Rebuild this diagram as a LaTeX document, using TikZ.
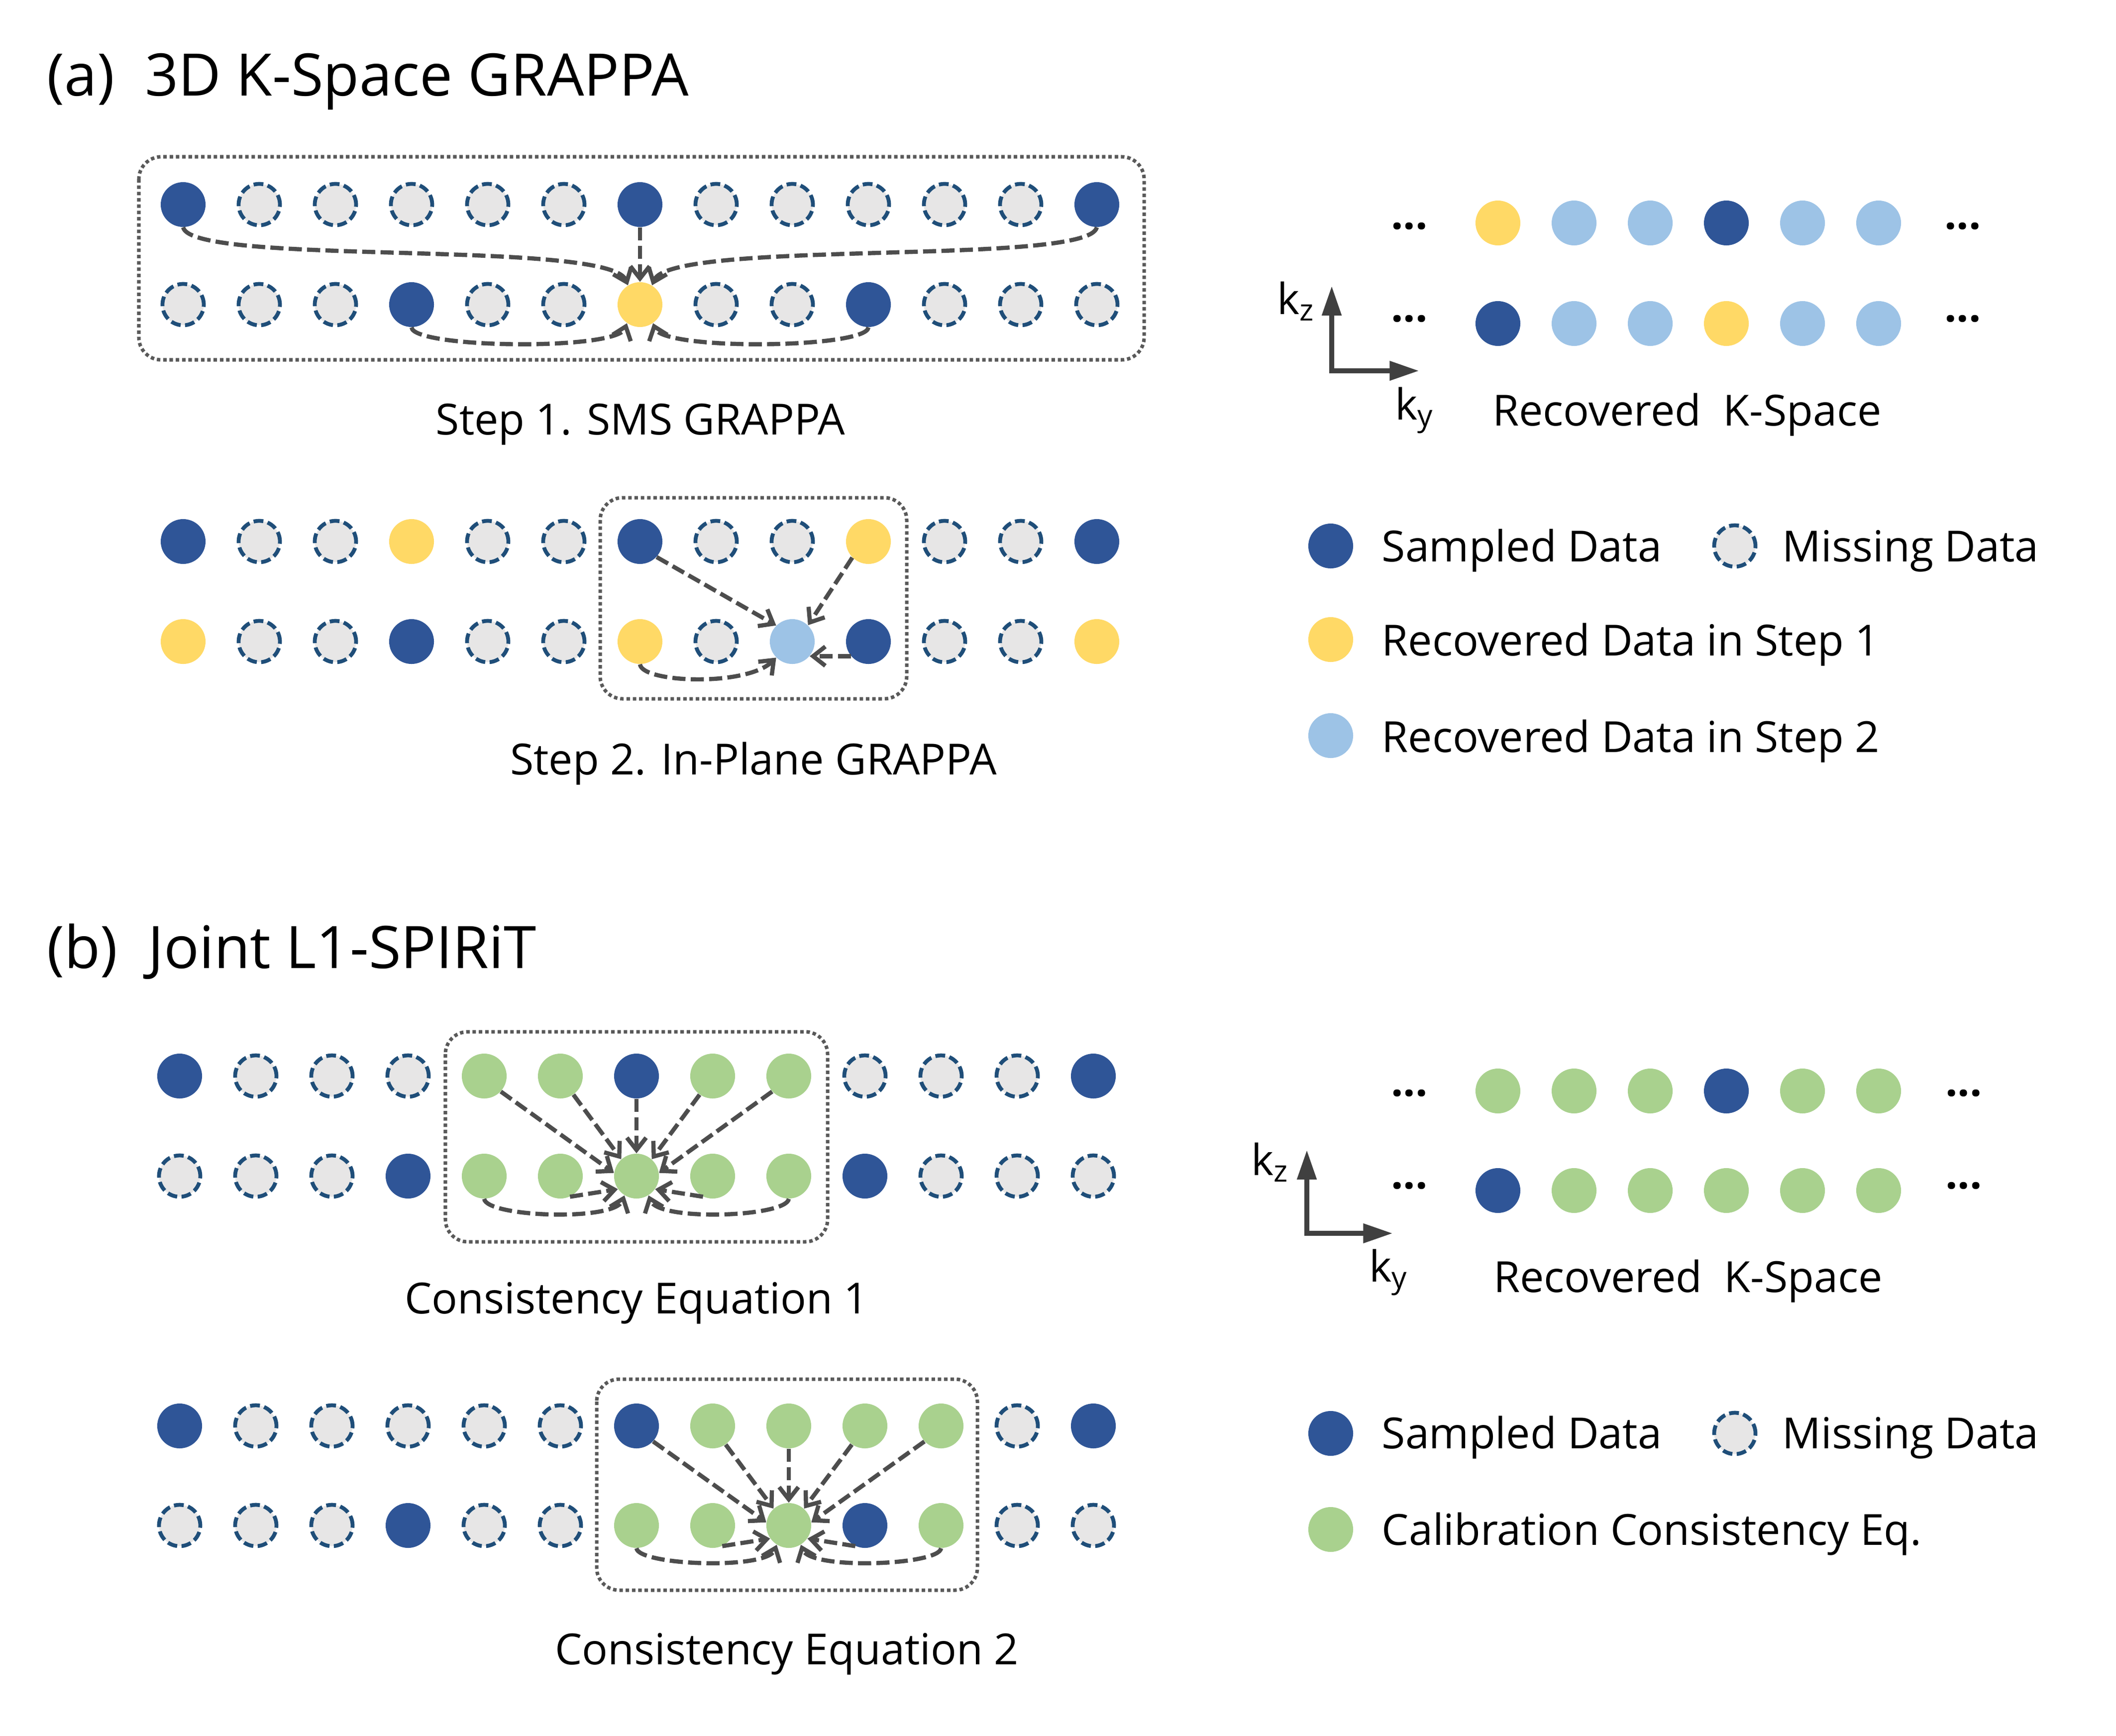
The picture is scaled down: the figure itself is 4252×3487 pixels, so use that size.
\documentclass[tikz,border=0pt]{standalone}
\usepackage{fontspec}
\setmainfont{Open Sans}
\usetikzlibrary{arrows.meta}
\definecolor{cB}{HTML}{2F5597}
\definecolor{cMf}{HTML}{E7E6E6}
\definecolor{cMd}{HTML}{1F4E79}
\definecolor{cY}{HTML}{FFD966}
\definecolor{cL}{HTML}{9DC3E6}
\definecolor{cG}{HTML}{A9D18E}
\definecolor{arrc}{HTML}{4D4D4D}
\definecolor{boxc}{HTML}{595959}
\definecolor{axc}{HTML}{404040}
\newcommand{\kRow}[4]{\foreach \t [count=\i from 0] in {#4} {\node[\t] (#1\i) at ({#2+153*\i},#3) {};}}
\begin{document}
\begin{tikzpicture}[x=0.01cm,y=-0.01cm,
 dot/.style={circle,inner sep=0pt,minimum size=0.9cm},
 sB/.style={dot,fill=cB},
 sM/.style={dot,fill=cMf,draw=cMd,line width=2.2pt,dash pattern=on 5.6pt off 2.5pt,minimum size=0.83cm},
 sY/.style={dot,fill=cY},
 sL/.style={dot,fill=cL},
 sG/.style={dot,fill=cG},
 arr/.style={draw=arrc,line width=2.4pt,dash pattern=on 7.5pt off 3pt,-{Straight Barb[length=7pt,width=11pt]}},
 grp/.style={draw=boxc,line width=2pt,dash pattern=on 2pt off 1.6pt,rounded corners=0.45cm},
 axis/.style={draw=axc,line width=3.1pt,line join=miter,{Triangle[length=17pt,width=10.5pt]}-{Triangle[length=17pt,width=10.5pt]}},
 txt/.style={inner sep=0pt,font=\fontsize{24.5}{29}\selectfont},
 ttl/.style={inner sep=0pt,font=\fontsize{33.5}{40}\selectfont}]
\fill[white] (0,0) rectangle (4252,3487);
\useasboundingbox (0,0) rectangle (4252,3487);

% ---------- titles ----------
\node[ttl,anchor=base west] (ttlA) at (94,192) {(a)~~3D K-Space GRAPPA};
\node[ttl,anchor=base west] (ttlB) at (94,1945) {(b)~~Joint L1-SPIRiT};

% ---------- (a) step 1 ----------
\draw[grp] (279,315) rectangle (2299,723);
\kRow{a1t}{368}{411}{sB,sM,sM,sM,sM,sM,sB,sM,sM,sM,sM,sM,sB}
\kRow{a1b}{368}{612}{sM,sM,sM,sB,sM,sM,sY,sM,sM,sB,sM,sM,sM}
\draw[arr] (a1t0.south) .. controls (385,535) and (1225,480) .. (a1b6.122);
\draw[arr] (a1t12.south) .. controls (2187,535) and (1347,480) .. (a1b6.58);
\draw[arr] (a1t6.south) -- (a1b6.north);
\draw[arr] (a1b3.south) .. controls (830,700) and (1240,705) .. (a1b6.235);
\draw[arr] (a1b9.south) .. controls (1742,700) and (1332,705) .. (a1b6.305);
\node[txt,anchor=base] (lab1) at (1287,873) {Step 1. SMS GRAPPA};

% ---------- (a) step 2 ----------
\draw[grp] (1206,1000) rectangle (1822,1404);
\kRow{a2t}{368}{1088}{sB,sM,sM,sY,sM,sM,sB,sM,sM,sY,sM,sM,sB}
\kRow{a2b}{368}{1289}{sY,sM,sM,sB,sM,sM,sY,sM,sL,sB,sM,sM,sY}
\draw[arr] (a2t6.-43) -- (a2b8.135);
\draw[arr] (a2t9.225) -- (a2b8.46);
\draw[arr] (a2b9.220) -- (a2b8.320);
\draw[arr] (a2b6.south) .. controls (1290,1372) and (1500,1380) .. (a2b8.225);
\node[txt,anchor=base] (lab2) at (1514,1556) {Step 2. In-Plane GRAPPA};

% ---------- (a) recovered k-space ----------
\kRow{ra1}{3010}{448}{sY,sL,sL,sB,sL,sL}
\kRow{ra2}{3010}{650}{sB,sL,sL,sY,sL,sL}
\node[txt,anchor=base] (dA1) at (2832,460) {\textbf{...}};
\node[txt,anchor=base] (dA2) at (3944,460) {\textbf{...}};
\node[txt,anchor=base] (dA3) at (2832,646) {\textbf{...}};
\node[txt,anchor=base] (dA4) at (3944,646) {\textbf{...}};
\coordinate (axAO) at (2676,745);
\coordinate (axAZ) at (2676,574);
\coordinate (axAY) at (2852,745);
\draw[axis] (axAZ) -- (axAO) -- (axAY);
\node[txt,anchor=base west] (kzA) at (2566,631) {k\textsubscript{z}};
\node[txt,anchor=base west] (kyA) at (2803,843) {k\textsubscript{y}};
\node[txt,anchor=base] (recA) at (3390,855) {Recovered~~K-Space};

% ---------- (a) legend ----------
\node[sB] (lgA1) at (2674,1097) {};
\node[txt,anchor=base west] (lgA1t) at (2776,1128) {Sampled Data};
\node[sM] (lgA2) at (3486,1097) {};
\node[txt,anchor=base west] (lgA2t) at (3581,1128) {Missing Data};
\node[sY] (lgA3) at (2674,1285) {};
\node[txt,anchor=base west] (lgA3t) at (2776,1317) {Recovered Data in Step 1};
\node[sL] (lgA4) at (2674,1478) {};
\node[txt,anchor=base west] (lgA4t) at (2776,1511) {Recovered Data in Step 2};

% ---------- (b) consistency equation 1 ----------
\draw[grp] (895,2073) rectangle (1663,2495);
\kRow{b1t}{361}{2162}{sB,sM,sM,sM,sG,sG,sB,sG,sG,sM,sM,sM,sB}
\kRow{b1b}{361}{2363}{sM,sM,sM,sB,sG,sG,sG,sG,sG,sB,sM,sM,sM}
\draw[arr] (b1t4.-43) -- (b1b6.172);
\draw[arr] (b1t5.-55) -- (b1b6.132);
\draw[arr] (b1t6.south) -- (b1b6.north);
\draw[arr] (b1t7.-125) -- (b1b6.48);
\draw[arr] (b1t8.-137) -- (b1b6.8);
\draw[arr] (b1b5.-65) -- (b1b6.215);
\draw[arr] (b1b7.-115) -- (b1b6.325);
\draw[arr] (b1b4.south) .. controls (977,2445) and (1235,2455) .. (b1b6.238);
\draw[arr] (b1b8.south) .. controls (1581,2445) and (1323,2455) .. (b1b6.302);
\node[txt,anchor=base] (lab3) at (1279,2639) {Consistency Equation 1};

% ---------- (b) consistency equation 2 ----------
\draw[grp] (1199,2771) rectangle (1964,3195);
\kRow{b2t}{361}{2865}{sB,sM,sM,sM,sM,sM,sB,sG,sG,sG,sG,sM,sB}
\kRow{b2b}{361}{3065}{sM,sM,sM,sB,sM,sM,sG,sG,sG,sB,sG,sM,sM}
\draw[arr] (b2t6.-43) -- (b2b8.172);
\draw[arr] (b2t7.-55) -- (b2b8.132);
\draw[arr] (b2t8.south) -- (b2b8.north);
\draw[arr] (b2t9.-125) -- (b2b8.48);
\draw[arr] (b2t10.-137) -- (b2b8.8);
\draw[arr] (b2b7.-65) -- (b2b8.215);
\draw[arr] (b2b9.-115) -- (b2b8.325);
\draw[arr] (b2b6.south) .. controls (1283,3145) and (1541,3155) .. (b2b8.238);
\draw[arr] (b2b10.south) .. controls (1887,3145) and (1629,3155) .. (b2b8.302);
\node[txt,anchor=base] (lab4) at (1581,3344) {Consistency Equation 2};

% ---------- (b) recovered k-space ----------
\kRow{rb1}{3010}{2192}{sG,sG,sG,sB,sG,sG}
\kRow{rb2}{3010}{2392}{sB,sG,sG,sG,sG,sG}
\node[txt,anchor=base] (dB1) at (2832,2202) {\textbf{...}};
\node[txt,anchor=base] (dB2) at (3946,2202) {\textbf{...}};
\node[txt,anchor=base] (dB3) at (2832,2388) {\textbf{...}};
\node[txt,anchor=base] (dB4) at (3946,2388) {\textbf{...}};
\coordinate (axBO) at (2626,2478);
\coordinate (axBZ) at (2626,2310);
\coordinate (axBY) at (2799,2478);
\draw[axis] (axBZ) -- (axBO) -- (axBY);
\node[txt,anchor=base west] (kzB) at (2514,2361) {k\textsubscript{z}};
\node[txt,anchor=base west] (kyB) at (2751,2575) {k\textsubscript{y}};
\node[txt,anchor=base] (recB) at (3392,2596) {Recovered~~K-Space};

% ---------- (b) legend ----------
\node[sB] (lgB1) at (2674,2880) {};
\node[txt,anchor=base west] (lgB1t) at (2776,2910) {Sampled Data};
\node[sM] (lgB2) at (3486,2880) {};
\node[txt,anchor=base west] (lgB2t) at (3581,2910) {Missing Data};
\node[sG] (lgB3) at (2674,3073) {};
\node[txt,anchor=base west] (lgB3t) at (2776,3104) {Calibration Consistency Eq.};
\end{tikzpicture}
\end{document}
